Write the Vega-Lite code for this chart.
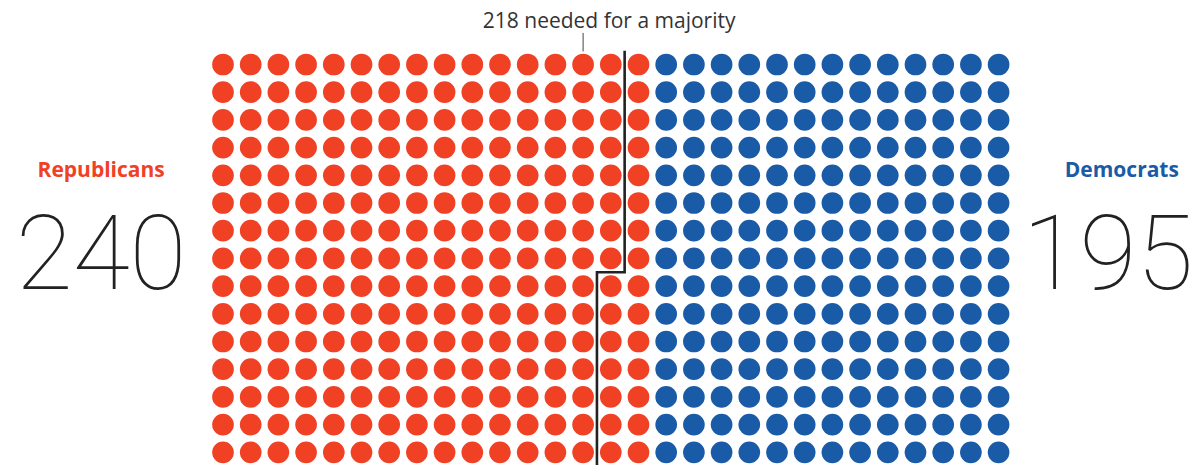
{
  "$schema": "https://vega.github.io/schema/vega-lite/v6.json",
  "width": 1199,
  "height": 465,
  "padding": 0,
  "autosize": "none",
  "background": "white",
  "config": {"view": {"stroke": null}},
  "datasets": {
    "seats": [
{"c":0,"r":0,"p":"R"},{"c":0,"r":1,"p":"R"},{"c":0,"r":2,"p":"R"},{"c":0,"r":3,"p":"R"},{"c":0,"r":4,"p":"R"},{"c":0,"r":5,"p":"R"},{"c":0,"r":6,"p":"R"},{"c":0,"r":7,"p":"R"},{"c":0,"r":8,"p":"R"},{"c":0,"r":9,"p":"R"},{"c":0,"r":10,"p":"R"},{"c":0,"r":11,"p":"R"},{"c":0,"r":12,"p":"R"},{"c":0,"r":13,"p":"R"},{"c":0,"r":14,"p":"R"},
{"c":1,"r":0,"p":"R"},{"c":1,"r":1,"p":"R"},{"c":1,"r":2,"p":"R"},{"c":1,"r":3,"p":"R"},{"c":1,"r":4,"p":"R"},{"c":1,"r":5,"p":"R"},{"c":1,"r":6,"p":"R"},{"c":1,"r":7,"p":"R"},{"c":1,"r":8,"p":"R"},{"c":1,"r":9,"p":"R"},{"c":1,"r":10,"p":"R"},{"c":1,"r":11,"p":"R"},{"c":1,"r":12,"p":"R"},{"c":1,"r":13,"p":"R"},{"c":1,"r":14,"p":"R"},
{"c":2,"r":0,"p":"R"},{"c":2,"r":1,"p":"R"},{"c":2,"r":2,"p":"R"},{"c":2,"r":3,"p":"R"},{"c":2,"r":4,"p":"R"},{"c":2,"r":5,"p":"R"},{"c":2,"r":6,"p":"R"},{"c":2,"r":7,"p":"R"},{"c":2,"r":8,"p":"R"},{"c":2,"r":9,"p":"R"},{"c":2,"r":10,"p":"R"},{"c":2,"r":11,"p":"R"},{"c":2,"r":12,"p":"R"},{"c":2,"r":13,"p":"R"},{"c":2,"r":14,"p":"R"},
{"c":3,"r":0,"p":"R"},{"c":3,"r":1,"p":"R"},{"c":3,"r":2,"p":"R"},{"c":3,"r":3,"p":"R"},{"c":3,"r":4,"p":"R"},{"c":3,"r":5,"p":"R"},{"c":3,"r":6,"p":"R"},{"c":3,"r":7,"p":"R"},{"c":3,"r":8,"p":"R"},{"c":3,"r":9,"p":"R"},{"c":3,"r":10,"p":"R"},{"c":3,"r":11,"p":"R"},{"c":3,"r":12,"p":"R"},{"c":3,"r":13,"p":"R"},{"c":3,"r":14,"p":"R"},
{"c":4,"r":0,"p":"R"},{"c":4,"r":1,"p":"R"},{"c":4,"r":2,"p":"R"},{"c":4,"r":3,"p":"R"},{"c":4,"r":4,"p":"R"},{"c":4,"r":5,"p":"R"},{"c":4,"r":6,"p":"R"},{"c":4,"r":7,"p":"R"},{"c":4,"r":8,"p":"R"},{"c":4,"r":9,"p":"R"},{"c":4,"r":10,"p":"R"},{"c":4,"r":11,"p":"R"},{"c":4,"r":12,"p":"R"},{"c":4,"r":13,"p":"R"},{"c":4,"r":14,"p":"R"},
{"c":5,"r":0,"p":"R"},{"c":5,"r":1,"p":"R"},{"c":5,"r":2,"p":"R"},{"c":5,"r":3,"p":"R"},{"c":5,"r":4,"p":"R"},{"c":5,"r":5,"p":"R"},{"c":5,"r":6,"p":"R"},{"c":5,"r":7,"p":"R"},{"c":5,"r":8,"p":"R"},{"c":5,"r":9,"p":"R"},{"c":5,"r":10,"p":"R"},{"c":5,"r":11,"p":"R"},{"c":5,"r":12,"p":"R"},{"c":5,"r":13,"p":"R"},{"c":5,"r":14,"p":"R"},
{"c":6,"r":0,"p":"R"},{"c":6,"r":1,"p":"R"},{"c":6,"r":2,"p":"R"},{"c":6,"r":3,"p":"R"},{"c":6,"r":4,"p":"R"},{"c":6,"r":5,"p":"R"},{"c":6,"r":6,"p":"R"},{"c":6,"r":7,"p":"R"},{"c":6,"r":8,"p":"R"},{"c":6,"r":9,"p":"R"},{"c":6,"r":10,"p":"R"},{"c":6,"r":11,"p":"R"},{"c":6,"r":12,"p":"R"},{"c":6,"r":13,"p":"R"},{"c":6,"r":14,"p":"R"},
{"c":7,"r":0,"p":"R"},{"c":7,"r":1,"p":"R"},{"c":7,"r":2,"p":"R"},{"c":7,"r":3,"p":"R"},{"c":7,"r":4,"p":"R"},{"c":7,"r":5,"p":"R"},{"c":7,"r":6,"p":"R"},{"c":7,"r":7,"p":"R"},{"c":7,"r":8,"p":"R"},{"c":7,"r":9,"p":"R"},{"c":7,"r":10,"p":"R"},{"c":7,"r":11,"p":"R"},{"c":7,"r":12,"p":"R"},{"c":7,"r":13,"p":"R"},{"c":7,"r":14,"p":"R"},
{"c":8,"r":0,"p":"R"},{"c":8,"r":1,"p":"R"},{"c":8,"r":2,"p":"R"},{"c":8,"r":3,"p":"R"},{"c":8,"r":4,"p":"R"},{"c":8,"r":5,"p":"R"},{"c":8,"r":6,"p":"R"},{"c":8,"r":7,"p":"R"},{"c":8,"r":8,"p":"R"},{"c":8,"r":9,"p":"R"},{"c":8,"r":10,"p":"R"},{"c":8,"r":11,"p":"R"},{"c":8,"r":12,"p":"R"},{"c":8,"r":13,"p":"R"},{"c":8,"r":14,"p":"R"},
{"c":9,"r":0,"p":"R"},{"c":9,"r":1,"p":"R"},{"c":9,"r":2,"p":"R"},{"c":9,"r":3,"p":"R"},{"c":9,"r":4,"p":"R"},{"c":9,"r":5,"p":"R"},{"c":9,"r":6,"p":"R"},{"c":9,"r":7,"p":"R"},{"c":9,"r":8,"p":"R"},{"c":9,"r":9,"p":"R"},{"c":9,"r":10,"p":"R"},{"c":9,"r":11,"p":"R"},{"c":9,"r":12,"p":"R"},{"c":9,"r":13,"p":"R"},{"c":9,"r":14,"p":"R"},
{"c":10,"r":0,"p":"R"},{"c":10,"r":1,"p":"R"},{"c":10,"r":2,"p":"R"},{"c":10,"r":3,"p":"R"},{"c":10,"r":4,"p":"R"},{"c":10,"r":5,"p":"R"},{"c":10,"r":6,"p":"R"},{"c":10,"r":7,"p":"R"},{"c":10,"r":8,"p":"R"},{"c":10,"r":9,"p":"R"},{"c":10,"r":10,"p":"R"},{"c":10,"r":11,"p":"R"},{"c":10,"r":12,"p":"R"},{"c":10,"r":13,"p":"R"},{"c":10,"r":14,"p":"R"},
{"c":11,"r":0,"p":"R"},{"c":11,"r":1,"p":"R"},{"c":11,"r":2,"p":"R"},{"c":11,"r":3,"p":"R"},{"c":11,"r":4,"p":"R"},{"c":11,"r":5,"p":"R"},{"c":11,"r":6,"p":"R"},{"c":11,"r":7,"p":"R"},{"c":11,"r":8,"p":"R"},{"c":11,"r":9,"p":"R"},{"c":11,"r":10,"p":"R"},{"c":11,"r":11,"p":"R"},{"c":11,"r":12,"p":"R"},{"c":11,"r":13,"p":"R"},{"c":11,"r":14,"p":"R"},
{"c":12,"r":0,"p":"R"},{"c":12,"r":1,"p":"R"},{"c":12,"r":2,"p":"R"},{"c":12,"r":3,"p":"R"},{"c":12,"r":4,"p":"R"},{"c":12,"r":5,"p":"R"},{"c":12,"r":6,"p":"R"},{"c":12,"r":7,"p":"R"},{"c":12,"r":8,"p":"R"},{"c":12,"r":9,"p":"R"},{"c":12,"r":10,"p":"R"},{"c":12,"r":11,"p":"R"},{"c":12,"r":12,"p":"R"},{"c":12,"r":13,"p":"R"},{"c":12,"r":14,"p":"R"},
{"c":13,"r":0,"p":"R"},{"c":13,"r":1,"p":"R"},{"c":13,"r":2,"p":"R"},{"c":13,"r":3,"p":"R"},{"c":13,"r":4,"p":"R"},{"c":13,"r":5,"p":"R"},{"c":13,"r":6,"p":"R"},{"c":13,"r":7,"p":"R"},{"c":13,"r":8,"p":"R"},{"c":13,"r":9,"p":"R"},{"c":13,"r":10,"p":"R"},{"c":13,"r":11,"p":"R"},{"c":13,"r":12,"p":"R"},{"c":13,"r":13,"p":"R"},{"c":13,"r":14,"p":"R"},
{"c":14,"r":0,"p":"R"},{"c":14,"r":1,"p":"R"},{"c":14,"r":2,"p":"R"},{"c":14,"r":3,"p":"R"},{"c":14,"r":4,"p":"R"},{"c":14,"r":5,"p":"R"},{"c":14,"r":6,"p":"R"},{"c":14,"r":7,"p":"R"},{"c":14,"r":8,"p":"R"},{"c":14,"r":9,"p":"R"},{"c":14,"r":10,"p":"R"},{"c":14,"r":11,"p":"R"},{"c":14,"r":12,"p":"R"},{"c":14,"r":13,"p":"R"},{"c":14,"r":14,"p":"R"},
{"c":15,"r":0,"p":"R"},{"c":15,"r":1,"p":"R"},{"c":15,"r":2,"p":"R"},{"c":15,"r":3,"p":"R"},{"c":15,"r":4,"p":"R"},{"c":15,"r":5,"p":"R"},{"c":15,"r":6,"p":"R"},{"c":15,"r":7,"p":"R"},{"c":15,"r":8,"p":"R"},{"c":15,"r":9,"p":"R"},{"c":15,"r":10,"p":"R"},{"c":15,"r":11,"p":"R"},{"c":15,"r":12,"p":"R"},{"c":15,"r":13,"p":"R"},{"c":15,"r":14,"p":"R"},
{"c":16,"r":0,"p":"D"},{"c":16,"r":1,"p":"D"},{"c":16,"r":2,"p":"D"},{"c":16,"r":3,"p":"D"},{"c":16,"r":4,"p":"D"},{"c":16,"r":5,"p":"D"},{"c":16,"r":6,"p":"D"},{"c":16,"r":7,"p":"D"},{"c":16,"r":8,"p":"D"},{"c":16,"r":9,"p":"D"},{"c":16,"r":10,"p":"D"},{"c":16,"r":11,"p":"D"},{"c":16,"r":12,"p":"D"},{"c":16,"r":13,"p":"D"},{"c":16,"r":14,"p":"D"},
{"c":17,"r":0,"p":"D"},{"c":17,"r":1,"p":"D"},{"c":17,"r":2,"p":"D"},{"c":17,"r":3,"p":"D"},{"c":17,"r":4,"p":"D"},{"c":17,"r":5,"p":"D"},{"c":17,"r":6,"p":"D"},{"c":17,"r":7,"p":"D"},{"c":17,"r":8,"p":"D"},{"c":17,"r":9,"p":"D"},{"c":17,"r":10,"p":"D"},{"c":17,"r":11,"p":"D"},{"c":17,"r":12,"p":"D"},{"c":17,"r":13,"p":"D"},{"c":17,"r":14,"p":"D"},
{"c":18,"r":0,"p":"D"},{"c":18,"r":1,"p":"D"},{"c":18,"r":2,"p":"D"},{"c":18,"r":3,"p":"D"},{"c":18,"r":4,"p":"D"},{"c":18,"r":5,"p":"D"},{"c":18,"r":6,"p":"D"},{"c":18,"r":7,"p":"D"},{"c":18,"r":8,"p":"D"},{"c":18,"r":9,"p":"D"},{"c":18,"r":10,"p":"D"},{"c":18,"r":11,"p":"D"},{"c":18,"r":12,"p":"D"},{"c":18,"r":13,"p":"D"},{"c":18,"r":14,"p":"D"},
{"c":19,"r":0,"p":"D"},{"c":19,"r":1,"p":"D"},{"c":19,"r":2,"p":"D"},{"c":19,"r":3,"p":"D"},{"c":19,"r":4,"p":"D"},{"c":19,"r":5,"p":"D"},{"c":19,"r":6,"p":"D"},{"c":19,"r":7,"p":"D"},{"c":19,"r":8,"p":"D"},{"c":19,"r":9,"p":"D"},{"c":19,"r":10,"p":"D"},{"c":19,"r":11,"p":"D"},{"c":19,"r":12,"p":"D"},{"c":19,"r":13,"p":"D"},{"c":19,"r":14,"p":"D"},
{"c":20,"r":0,"p":"D"},{"c":20,"r":1,"p":"D"},{"c":20,"r":2,"p":"D"},{"c":20,"r":3,"p":"D"},{"c":20,"r":4,"p":"D"},{"c":20,"r":5,"p":"D"},{"c":20,"r":6,"p":"D"},{"c":20,"r":7,"p":"D"},{"c":20,"r":8,"p":"D"},{"c":20,"r":9,"p":"D"},{"c":20,"r":10,"p":"D"},{"c":20,"r":11,"p":"D"},{"c":20,"r":12,"p":"D"},{"c":20,"r":13,"p":"D"},{"c":20,"r":14,"p":"D"},
{"c":21,"r":0,"p":"D"},{"c":21,"r":1,"p":"D"},{"c":21,"r":2,"p":"D"},{"c":21,"r":3,"p":"D"},{"c":21,"r":4,"p":"D"},{"c":21,"r":5,"p":"D"},{"c":21,"r":6,"p":"D"},{"c":21,"r":7,"p":"D"},{"c":21,"r":8,"p":"D"},{"c":21,"r":9,"p":"D"},{"c":21,"r":10,"p":"D"},{"c":21,"r":11,"p":"D"},{"c":21,"r":12,"p":"D"},{"c":21,"r":13,"p":"D"},{"c":21,"r":14,"p":"D"},
{"c":22,"r":0,"p":"D"},{"c":22,"r":1,"p":"D"},{"c":22,"r":2,"p":"D"},{"c":22,"r":3,"p":"D"},{"c":22,"r":4,"p":"D"},{"c":22,"r":5,"p":"D"},{"c":22,"r":6,"p":"D"},{"c":22,"r":7,"p":"D"},{"c":22,"r":8,"p":"D"},{"c":22,"r":9,"p":"D"},{"c":22,"r":10,"p":"D"},{"c":22,"r":11,"p":"D"},{"c":22,"r":12,"p":"D"},{"c":22,"r":13,"p":"D"},{"c":22,"r":14,"p":"D"},
{"c":23,"r":0,"p":"D"},{"c":23,"r":1,"p":"D"},{"c":23,"r":2,"p":"D"},{"c":23,"r":3,"p":"D"},{"c":23,"r":4,"p":"D"},{"c":23,"r":5,"p":"D"},{"c":23,"r":6,"p":"D"},{"c":23,"r":7,"p":"D"},{"c":23,"r":8,"p":"D"},{"c":23,"r":9,"p":"D"},{"c":23,"r":10,"p":"D"},{"c":23,"r":11,"p":"D"},{"c":23,"r":12,"p":"D"},{"c":23,"r":13,"p":"D"},{"c":23,"r":14,"p":"D"},
{"c":24,"r":0,"p":"D"},{"c":24,"r":1,"p":"D"},{"c":24,"r":2,"p":"D"},{"c":24,"r":3,"p":"D"},{"c":24,"r":4,"p":"D"},{"c":24,"r":5,"p":"D"},{"c":24,"r":6,"p":"D"},{"c":24,"r":7,"p":"D"},{"c":24,"r":8,"p":"D"},{"c":24,"r":9,"p":"D"},{"c":24,"r":10,"p":"D"},{"c":24,"r":11,"p":"D"},{"c":24,"r":12,"p":"D"},{"c":24,"r":13,"p":"D"},{"c":24,"r":14,"p":"D"},
{"c":25,"r":0,"p":"D"},{"c":25,"r":1,"p":"D"},{"c":25,"r":2,"p":"D"},{"c":25,"r":3,"p":"D"},{"c":25,"r":4,"p":"D"},{"c":25,"r":5,"p":"D"},{"c":25,"r":6,"p":"D"},{"c":25,"r":7,"p":"D"},{"c":25,"r":8,"p":"D"},{"c":25,"r":9,"p":"D"},{"c":25,"r":10,"p":"D"},{"c":25,"r":11,"p":"D"},{"c":25,"r":12,"p":"D"},{"c":25,"r":13,"p":"D"},{"c":25,"r":14,"p":"D"},
{"c":26,"r":0,"p":"D"},{"c":26,"r":1,"p":"D"},{"c":26,"r":2,"p":"D"},{"c":26,"r":3,"p":"D"},{"c":26,"r":4,"p":"D"},{"c":26,"r":5,"p":"D"},{"c":26,"r":6,"p":"D"},{"c":26,"r":7,"p":"D"},{"c":26,"r":8,"p":"D"},{"c":26,"r":9,"p":"D"},{"c":26,"r":10,"p":"D"},{"c":26,"r":11,"p":"D"},{"c":26,"r":12,"p":"D"},{"c":26,"r":13,"p":"D"},{"c":26,"r":14,"p":"D"},
{"c":27,"r":0,"p":"D"},{"c":27,"r":1,"p":"D"},{"c":27,"r":2,"p":"D"},{"c":27,"r":3,"p":"D"},{"c":27,"r":4,"p":"D"},{"c":27,"r":5,"p":"D"},{"c":27,"r":6,"p":"D"},{"c":27,"r":7,"p":"D"},{"c":27,"r":8,"p":"D"},{"c":27,"r":9,"p":"D"},{"c":27,"r":10,"p":"D"},{"c":27,"r":11,"p":"D"},{"c":27,"r":12,"p":"D"},{"c":27,"r":13,"p":"D"},{"c":27,"r":14,"p":"D"},
{"c":28,"r":0,"p":"D"},{"c":28,"r":1,"p":"D"},{"c":28,"r":2,"p":"D"},{"c":28,"r":3,"p":"D"},{"c":28,"r":4,"p":"D"},{"c":28,"r":5,"p":"D"},{"c":28,"r":6,"p":"D"},{"c":28,"r":7,"p":"D"},{"c":28,"r":8,"p":"D"},{"c":28,"r":9,"p":"D"},{"c":28,"r":10,"p":"D"},{"c":28,"r":11,"p":"D"},{"c":28,"r":12,"p":"D"},{"c":28,"r":13,"p":"D"},{"c":28,"r":14,"p":"D"}
    ],
    "majority": [
      {"i": 0, "c": 14.5, "r": -0.5},
      {"i": 1, "c": 14.5, "r": 7.5},
      {"i": 2, "c": 13.5, "r": 7.5},
      {"i": 3, "c": 13.5, "r": 14.6}
    ],
    "parties": [
      {"party": "Republicans", "seats": 240},
      {"party": "Democrats", "seats": 195}
    ]
  },
  "layer": [
    {
      "data": {"name": "seats"},
      "mark": {"type": "circle", "size": 470, "opacity": 1},
      "encoding": {
        "x": {"field": "c", "type": "quantitative", "scale": {"domain": [-8.0505, 35.235], "nice": false, "zero": false}, "axis": null},
        "y": {"field": "r", "type": "quantitative", "scale": {"domain": [-2.3285, 14.4585], "nice": false, "zero": false, "reverse": true}, "axis": null},
        "color": {"field": "p", "type": "nominal", "scale": {"domain": ["R", "D"], "range": ["#f04125", "#1a5ba8"]}, "legend": null}
      }
    },
    {
      "data": {"name": "majority"},
      "mark": {"type": "line", "color": "#222222", "strokeWidth": 2.6, "interpolate": "linear"},
      "encoding": {
        "x": {"field": "c", "type": "quantitative"},
        "y": {"field": "r", "type": "quantitative"},
        "order": {"field": "i", "type": "quantitative"}
      }
    },
    {
      "data": {"values": [{"label": "218 needed for a majority"}]},
      "mark": {"type": "rule", "color": "#444444", "strokeWidth": 1},
      "encoding": {
        "x": {"datum": 13},
        "y": {"datum": -1.14},
        "y2": {"datum": -0.47}
      }
    },
    {
      "data": {"values": [{"label": "218 needed for a majority"}]},
      "mark": {"type": "text", "font": "Open Sans", "fontSize": 21, "color": "#333333", "align": "center", "baseline": "alphabetic"},
      "encoding": {
        "x": {"datum": 13.94},
        "y": {"datum": -1.31},
        "text": {"field": "label"}
      }
    },
    {
      "data": {"name": "parties"},
      "transform": [{"filter": "datum.party === 'Republicans'"}],
      "mark": {"type": "text", "font": "Open Sans", "fontWeight": "bold", "fontSize": 21, "color": "#f04125", "align": "center", "baseline": "alphabetic"},
      "encoding": {
        "x": {"datum": -4.4},
        "y": {"datum": 4.06},
        "text": {"field": "party"}
      }
    },
    {
      "data": {"name": "parties"},
      "transform": [{"filter": "datum.party === 'Republicans'"}],
      "mark": {"type": "text", "font": "Roboto", "fontWeight": 100, "fontSize": 104, "color": "#222222", "align": "center", "baseline": "alphabetic"},
      "encoding": {
        "x": {"datum": -4.4},
        "y": {"datum": 8.12},
        "text": {"field": "seats"}
      }
    },
    {
      "data": {"name": "parties"},
      "transform": [{"filter": "datum.party === 'Democrats'"}],
      "mark": {"type": "text", "font": "Open Sans", "fontWeight": "bold", "fontSize": 21, "color": "#1a5ba8", "align": "center", "baseline": "alphabetic"},
      "encoding": {
        "x": {"datum": 32.45},
        "y": {"datum": 4.06},
        "text": {"field": "party"}
      }
    },
    {
      "data": {"name": "parties"},
      "transform": [{"filter": "datum.party === 'Democrats'"}],
      "mark": {"type": "text", "font": "Roboto", "fontWeight": 100, "fontSize": 104, "color": "#222222", "align": "center", "baseline": "alphabetic"},
      "encoding": {
        "x": {"datum": 31.95},
        "y": {"datum": 8.12},
        "text": {"field": "seats"}
      }
    }
  ]
}
